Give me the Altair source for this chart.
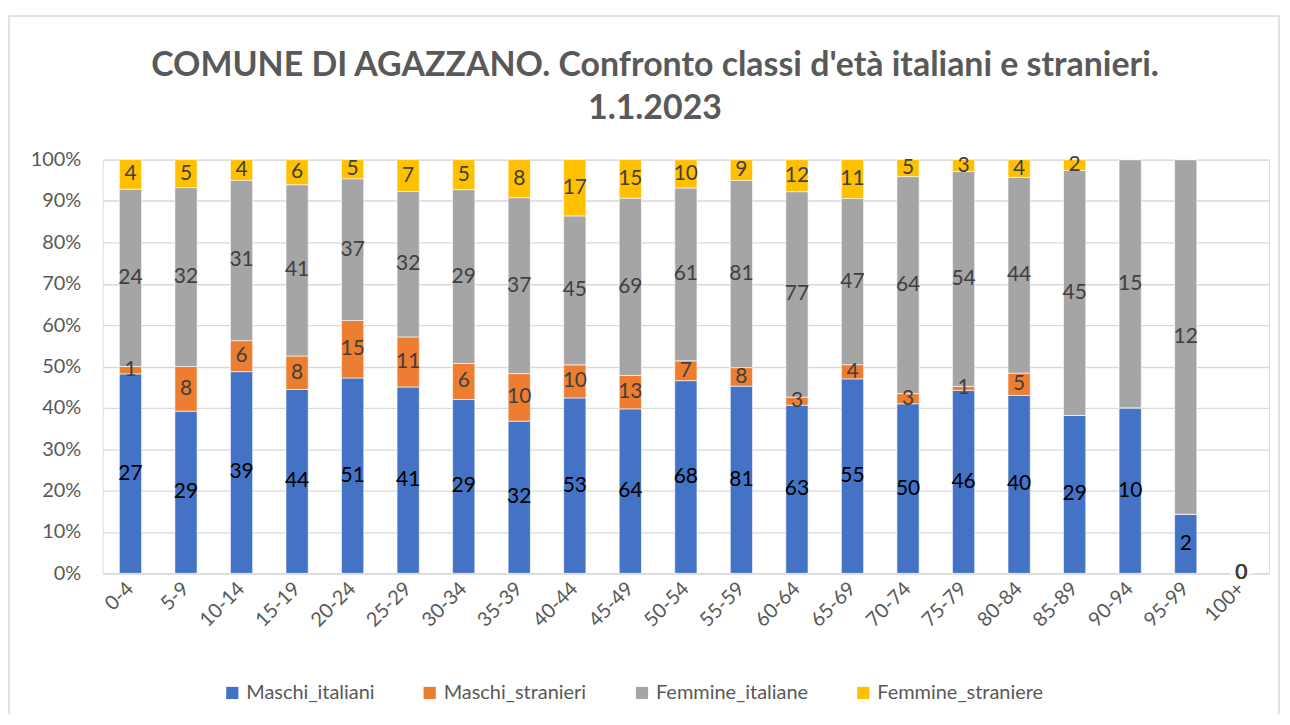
import altair as alt
import pandas as pd

ages = ["0-4", "5-9", "10-14", "15-19", "20-24", "25-29", "30-34", "35-39", "40-44",
        "45-49", "50-54", "55-59", "60-64", "65-69", "70-74", "75-79", "80-84",
        "85-89", "90-94", "95-99", "100+"]
maschi_italiani = [27, 29, 39, 44, 51, 41, 29, 32, 53, 64, 68, 81, 63, 55, 50, 46, 40, 29, 10, 2, 0]
maschi_stranieri = [1, 8, 6, 8, 15, 11, 6, 10, 10, 13, 7, 8, 3, 4, 3, 1, 5, 0, 0, 0, 0]
femmine_italiane = [24, 32, 31, 41, 37, 32, 29, 37, 45, 69, 61, 81, 77, 47, 64, 54, 44, 45, 15, 12, 0]
femmine_straniere = [4, 5, 4, 6, 5, 7, 5, 8, 17, 15, 10, 9, 12, 11, 5, 3, 4, 2, 0, 0, 0]

series_names = ["Maschi_italiani", "Maschi_stranieri", "Femmine_italiane", "Femmine_straniere"]
series_colors = ["#4472C4", "#ED7D31", "#A5A5A5", "#FFC000"]
series_values = [maschi_italiani, maschi_stranieri, femmine_italiane, femmine_straniere]

title_lines = ["COMUNE DI AGAZZANO. Confronto classi d'età italiani e stranieri.", "1.1.2023"]

rows = []
for i, age in enumerate(ages):
    vals = [s[i] for s in series_values]
    tot = sum(vals)
    cum = 0.0
    for k, (name, v) in enumerate(zip(series_names, vals)):
        f = v / tot if tot else 0.0
        rows.append(dict(age=age, series=name, order=k, value=v,
                         y0=cum, y1=cum + f, mid=cum + f / 2,
                         show=bool(v > 0 or tot == 0)))
        cum += f
df = pd.DataFrame(rows)

FONT = "Lato"
W, H = 1170, 415

base = alt.Chart(df)

x_enc = alt.X("age:N", sort=ages, title=None,
              scale=alt.Scale(paddingInner=0.6, paddingOuter=0.3),
              axis=alt.Axis(labelAngle=-45, labelAlign="right", labelBaseline="middle",
                            labelFontSize=20, labelColor="#595959", labelFont=FONT,
                            ticks=False, domain=True, domainColor="#D9D9D9",
                            domainWidth=1.3, labelPadding=12, grid=False))

bars = base.mark_bar(stroke="white", strokeWidth=0.6).encode(
    x=x_enc,
    y=alt.Y("y0:Q", title=None,
            scale=alt.Scale(domain=[0, 1], nice=False),
            axis=alt.Axis(format=".0%", values=[i / 10 for i in range(11)],
                          labelFontSize=20, labelColor="#595959", labelFont=FONT,
                          ticks=False, domain=False, grid=True,
                          gridColor="#D9D9D9", gridWidth=1.3, labelPadding=22)),
    y2="y1:Q",
    color=alt.Color("series:N", sort=series_names,
                    scale=alt.Scale(domain=series_names, range=series_colors),
                    legend=alt.Legend(title=None, orient="none", direction="horizontal",
                                      legendX=120, legendY=525, columns=4,
                                      symbolType="square", symbolSize=150,
                                      symbolStrokeWidth=0, labelFontSize=20,
                                      labelFont=FONT, labelColor="#595959",
                                      labelLimit=0,
                                      columnPadding=45, labelOffset=4)),
    order=alt.Order("order:Q"),
)

labels = base.transform_filter(alt.datum.show).mark_text(
    fontSize=21, font=FONT, baseline="middle", align="center"
).encode(
    x=alt.X("age:N", sort=ages),
    y=alt.Y("mid:Q"),
    text=alt.Text("value:Q"),
    color=alt.condition(alt.datum.series == "Maschi_italiani",
                        alt.value("#000000"), alt.value("#404040")),
)

frame = alt.Chart(pd.DataFrame({"k": [0]})).mark_rect(
    fill=None, stroke="#D9D9D9", strokeWidth=1.5
).encode(x=alt.value(-94), x2=alt.value(1180), y=alt.value(-144), y2=alt.value(570))

title1 = alt.Chart(pd.DataFrame({"t": [title_lines[0]]})).mark_text(
    font=FONT, fontSize=34, fontWeight="bold", color="#595959",
    align="center", baseline="alphabetic"
).encode(text="t:N", x=alt.value(554), y=alt.value(-84))

title2 = alt.Chart(pd.DataFrame({"t": [title_lines[1]]})).mark_text(
    font=FONT, fontSize=34, fontWeight="bold", color="#595959",
    align="center", baseline="alphabetic"
).encode(text="t:N", x=alt.value(554), y=alt.value(-41))

chart = alt.layer(frame, title1, title2, bars, labels).properties(
    width=W, height=H,
    autosize=alt.AutoSizeParams(type="none"),
    padding={"left": 95, "top": 151, "right": 13, "bottom": 140},
).configure_view(stroke=None).configure(background="white")

chart.save("out.html", embed_options={"renderer": "svg", "actions": False})
